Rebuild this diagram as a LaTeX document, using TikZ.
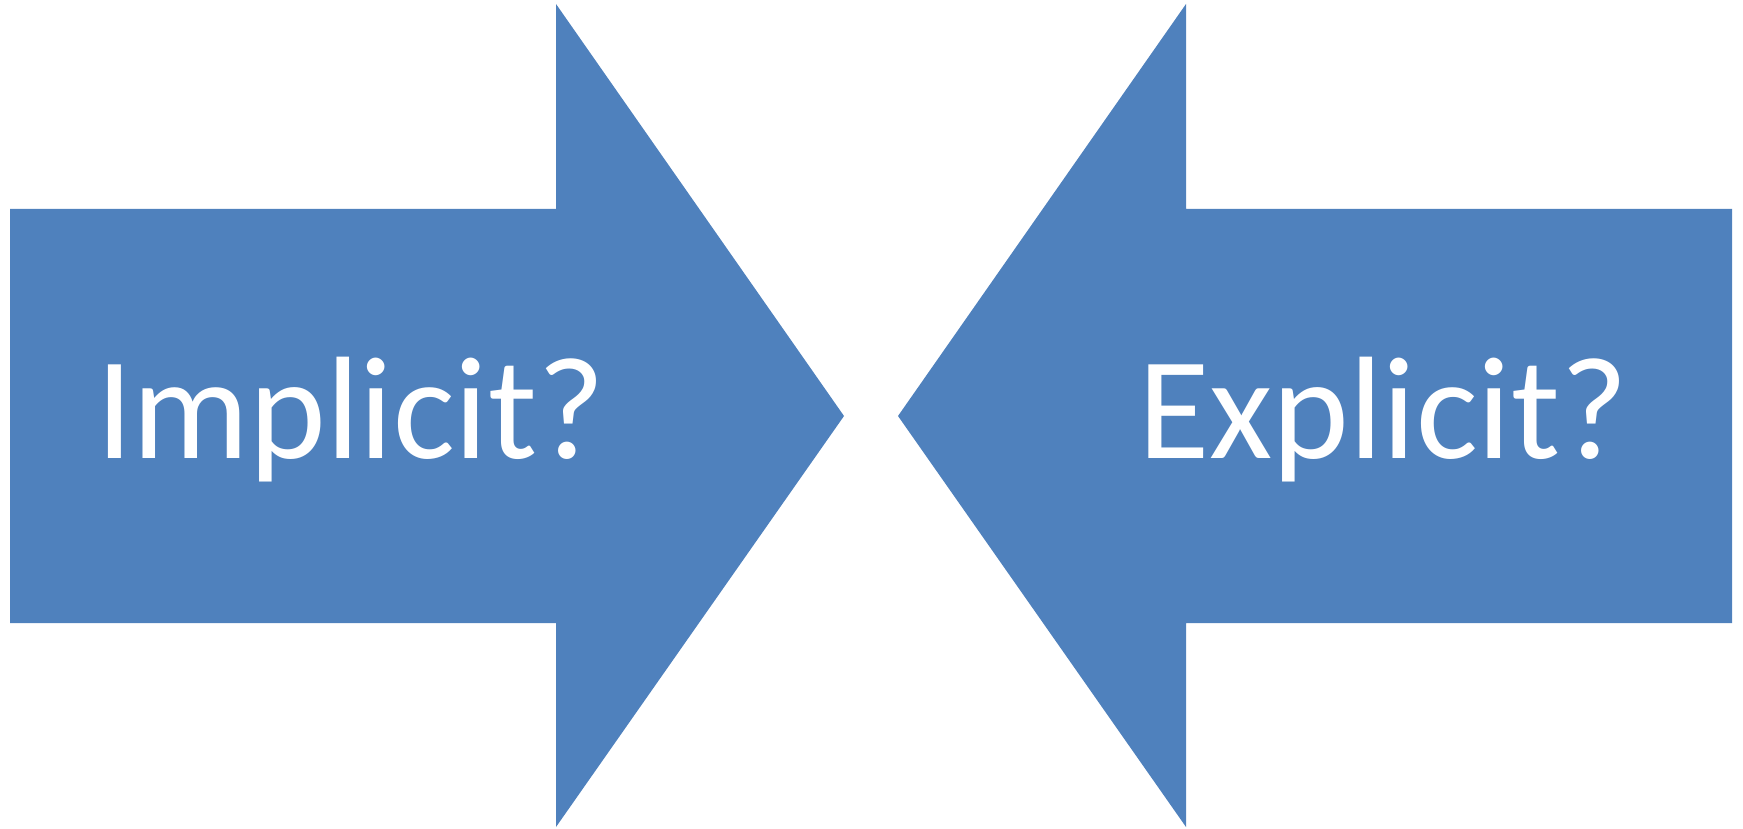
\documentclass[tikz,border=0pt]{standalone}
\usepackage{fontspec}
\setmainfont{Carlito}
\definecolor{arrowblue}{HTML}{4F81BD}
\tikzset{
  bigarrow/.style={fill=arrowblue, draw=none},
  arrowlabel/.style={text=white, inner sep=0pt, anchor=base west, font=\fontsize{146}{146}\selectfont}
}
\begin{document}
\begin{tikzpicture}[x=1pt,y=-1pt]
\useasboundingbox (0,0) rectangle (1743,829);
% left arrow
\fill[bigarrow] (10,209) -- (556,209) -- (556,4) -- (844,416) -- (556,827) -- (556,623) -- (10,623) -- cycle;
% right arrow
\fill[bigarrow] (1732,209) -- (1186,209) -- (1186,4) -- (898,416) -- (1186,827) -- (1186,623) -- (1732,623) -- cycle;
\node[arrowlabel] (impl) at (96,458) {Implicit?};
\node[arrowlabel] (expl) at (1138,458) {Explicit?};
\end{tikzpicture}
\end{document}
